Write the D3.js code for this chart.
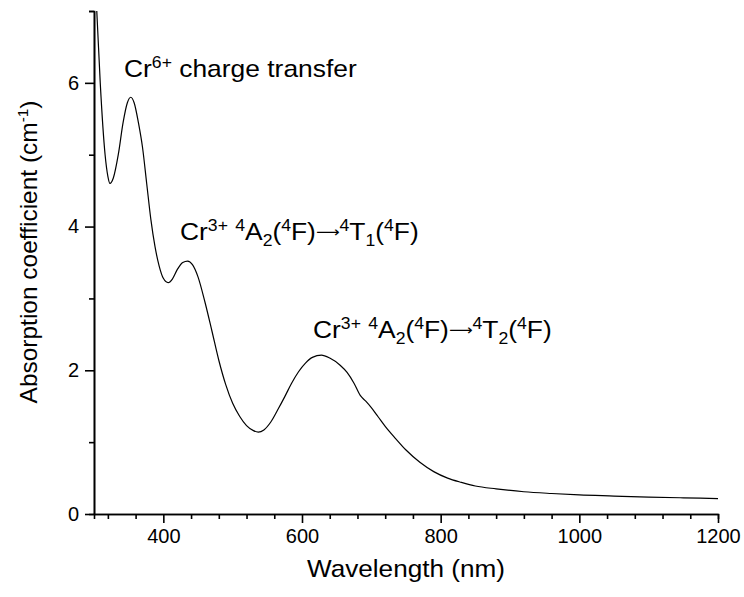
<!DOCTYPE html>
<html>
<head>
<meta charset="utf-8">
<script src="https://cdn.jsdelivr.net/npm/d3@7"></script>
<style>
  body { margin: 0; background: #fff; }
  svg text { font-family: "Liberation Sans", Arial, sans-serif; fill: #000; }
</style>
</head>
<body>
<div id="container"></div>
<script>
// spectrum
var wavelength = [300, 304, 309, 316, 320, 323, 328, 335, 342, 348, 353, 358, 364, 370, 376, 382, 388, 394, 400, 407,
  413, 420, 428, 435, 442, 450, 460, 470, 480, 490, 500, 510, 520, 530, 537, 545, 555, 565, 575, 585,
  595, 605, 615, 628, 640, 655, 665, 675, 684, 692, 700, 710, 720, 735, 750, 770, 790, 810, 830, 850,
  880, 920, 960, 1000, 1050, 1100, 1150, 1200];
var absorption = [7.6, 7.0, 6.0, 5.0, 4.7, 4.6, 4.68, 5.0, 5.45, 5.72, 5.8, 5.72, 5.45, 5.1, 4.6, 4.1, 3.72, 3.45, 3.28, 3.22,
  3.27, 3.4, 3.5, 3.52, 3.47, 3.3, 2.95, 2.55, 2.14, 1.8, 1.54, 1.36, 1.23, 1.16, 1.14, 1.17, 1.28, 1.45, 1.63, 1.82,
  1.98, 2.1, 2.18, 2.21, 2.17, 2.07, 1.97, 1.82, 1.65, 1.57, 1.48, 1.35, 1.22, 1.05, 0.89, 0.72, 0.59, 0.5, 0.44, 0.39,
  0.35, 0.31, 0.285, 0.265, 0.25, 0.235, 0.225, 0.215];

var xMajor = [400, 600, 800, 1000, 1200];
var xMinor = [320, 360, 440, 480, 520, 560, 640, 680, 720, 760, 840, 880, 920, 960, 1040, 1080, 1120, 1160];
var yMajor = [0, 2, 4, 6];
var yMinor = [1, 3, 5, 7];

var width = 744, height = 597;
var margin = {top: 11, right: 26, bottom: 83, left: 94};

var svg = d3.select("#container").append("svg")
    .attr("width", width).attr("height", height);

var x = d3.scaleLinear().domain([300, 1200]).range([margin.left, width - margin.right]);
var y = d3.scaleLinear().domain([0, 7]).range([height - margin.bottom, margin.top]);

svg.append("clipPath").attr("id", "plot")
  .append("rect")
    .attr("x", margin.left).attr("y", margin.top)
    .attr("width", x(1200) - x(300)).attr("height", y(0) - y(7));

var line = d3.line()
    .x(function(d, i) { return x(wavelength[i]); })
    .y(function(d) { return y(d); })
    .curve(d3.curveMonotoneX);

svg.append("path")
    .datum(absorption)
    .attr("clip-path", "url(#plot)")
    .attr("d", line)
    .attr("fill", "none")
    .attr("stroke", "#000")
    .attr("stroke-width", 1.2);

// axes
function styleAxis(g) {
  g.selectAll("path, line").attr("stroke", "#000").attr("stroke-width", 1.6);
  g.selectAll("text").attr("font-size", 20).attr("font-family", null);
}

svg.append("g")
    .attr("transform", "translate(0," + y(0) + ")")
    .call(d3.axisBottom(x).tickValues(xMinor).tickSize(5).tickFormat(""))
    .call(styleAxis);
svg.append("g")
    .attr("transform", "translate(0," + y(0) + ")")
    .call(d3.axisBottom(x).tickValues(xMajor).tickSize(9).tickSizeOuter(0).tickPadding(6).tickFormat(d3.format("d")))
    .call(styleAxis);

svg.append("g")
    .attr("transform", "translate(" + x(300) + ",0)")
    .call(d3.axisLeft(y).tickValues(yMinor).tickSize(5).tickFormat(""))
    .call(styleAxis);
svg.append("g")
    .attr("transform", "translate(" + x(300) + ",0)")
    .call(d3.axisLeft(y).tickValues(yMajor).tickSize(9).tickSizeOuter(0).tickPadding(6).tickFormat(d3.format("d")))
    .call(styleAxis);

// axis titles
svg.append("text")
    .attr("transform", "translate(" + (x(300) + x(1200)) / 2 + ",577) scale(1.09,1)")
    .attr("text-anchor", "middle")
    .attr("font-size", 24)
    .text("Wavelength (nm)");

var yt = svg.append("text")
    .attr("transform", "translate(37,252) rotate(-90) scale(1.02,1)")
    .attr("text-anchor", "middle")
    .attr("font-size", 24);
yt.append("tspan").text("Absorption coefficient (cm");
yt.append("tspan").attr("dy", -9).attr("font-size", 15).text("-1");
yt.append("tspan").attr("dy", 9).text(")");

// annotations: [text, script], script 0 normal, 1 superscript, -1 subscript, 2 arrow
var labels = [
  {x: 124, y: 77, parts: [["Cr", 0], ["6+", 1], [" charge transfer", 0]]},
  {x: 180, y: 240, parts: [["Cr", 0], ["3+", 1], [" ", 0], ["4", 1], ["A", 0], ["2", -1], ["(", 0], ["4", 1], ["F)", 0], ["\u27F6", 2], ["4", 1], ["T", 0], ["1", -1], ["(", 0], ["4", 1], ["F)", 0]]},
  {x: 313, y: 338, parts: [["Cr", 0], ["3+", 1], [" ", 0], ["4", 1], ["A", 0], ["2", -1], ["(", 0], ["4", 1], ["F)", 0], ["\u27F6", 2], ["4", 1], ["T", 0], ["2", -1], ["(", 0], ["4", 1], ["F)", 0]]}
];

labels.forEach(function(l) {
  var t = svg.append("text")
    .attr("transform", "translate(" + l.x + "," + l.y + ") scale(1.1,1)")
    .attr("font-size", 24);
  var shift = 0;
  l.parts.forEach(function(p) {
    var target = p[1] === 1 ? -9 : (p[1] === -1 ? 6 : (p[1] === 2 ? -3 : 0));
    var s = t.append("tspan")
      .attr("dy", target - shift)
      .attr("font-size", (p[1] === 1 || p[1] === -1) ? 16 : 24)
      .text(p[0]);
    if (p[1] === 2) s.style("font-family", "'DejaVu Sans'").attr("font-size", 15);
    shift = target;
  });
});
</script>
</body>
</html>
